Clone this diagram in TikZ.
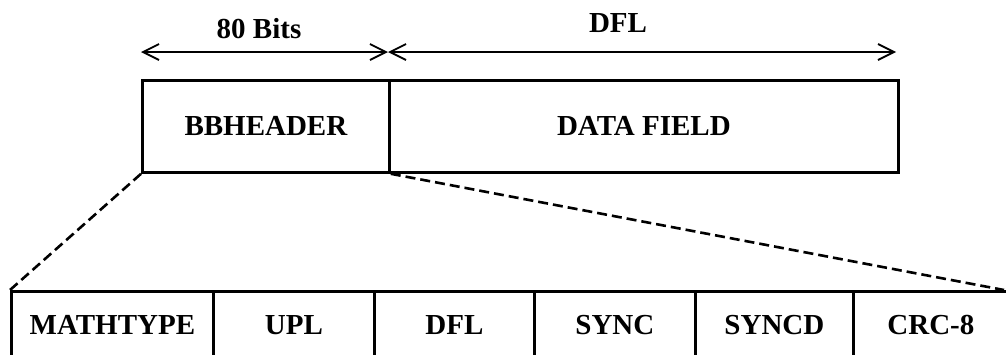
\documentclass[tikz,border=0pt]{standalone}
\usepackage{fontspec}
\setmainfont{Liberation Serif}
\usetikzlibrary{arrows.meta}
\begin{document}
\begin{tikzpicture}[x=1pt,y=-1pt,
  lbl/.style={font=\fontsize{29}{31}\selectfont\bfseries, inner sep=0pt},
  cell/.style={draw, line width=2.8pt, anchor=north west, inner sep=0pt,
    font=\fontsize{29}{31}\selectfont\bfseries},
  dim/.style={line width=1.8pt, {Straight Barb[length=16pt,width=16pt,line width=1.8pt]}-{Straight Barb[length=16pt,width=16pt,line width=1.8pt]}},
  expand/.style={line width=2.6pt, dash pattern=on 10pt off 5pt}]
\useasboundingbox (0,0) rectangle (1006,354);
\clip (0,0) rectangle (1006,354);

% baseband frame
\node[cell, minimum width=247pt, minimum height=92pt] (bbh) at (141,79) {BBHEADER};
\node[cell, minimum width=509pt, minimum height=92pt] (data) at (388,79) {DATA FIELD};

% length markers above the frame
\coordinate (dL) at (141,52);
\coordinate (dM) at (388,52);
\coordinate (dR) at (896,52);
\draw[dim] (dL) -- (dM);
\draw[dim] (dM) -- (dR);
\node[lbl] (bits) at (259,29) {80 Bits};
\node[lbl] (dfl) at (618,23) {DFL};

% header fields
\node[cell, minimum width=202pt, minimum height=68pt] (mt) at (10,290) {MATHTYPE};
\node[cell, minimum width=161pt, minimum height=68pt] (upl) at (212,290) {UPL};
\node[cell, minimum width=160pt, minimum height=68pt] (dflf) at (373,290) {DFL};
\node[cell, minimum width=161pt, minimum height=68pt] (sync) at (533,290) {SYNC};
\node[cell, minimum width=158pt, minimum height=68pt] (syncd) at (694,290) {SYNCD};
\node[cell, minimum width=155pt, minimum height=68pt] (crc) at (852,290) {CRC-8};

% expansion lines
\coordinate (endR) at (1004,290);
\draw[expand] (bbh.south west) -- (mt.north west);
\draw[expand] (bbh.south east) -- (endR);
\end{tikzpicture}
\end{document}
